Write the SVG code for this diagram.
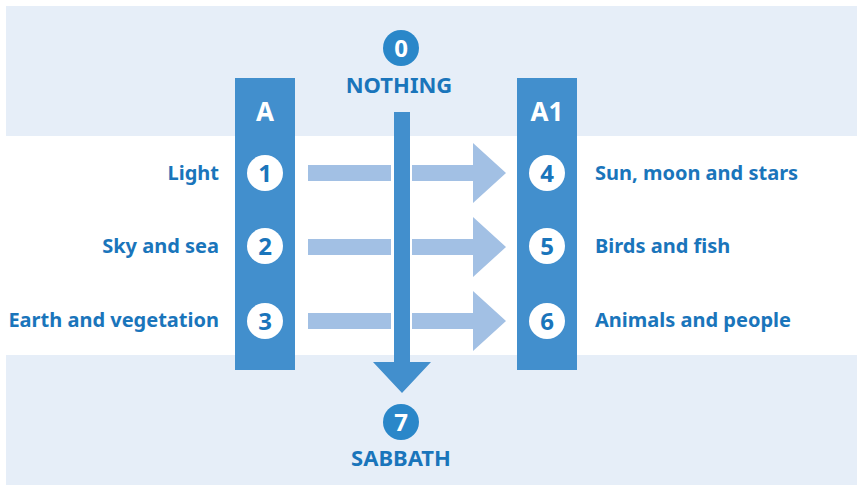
<svg xmlns="http://www.w3.org/2000/svg" width="857" height="485" viewBox="0 0 857 485">
<style>
.band{fill:#e6eef8}
.col{fill:#428fcd}
.lbl{font-family:"Noto Sans","Open Sans",sans-serif;font-weight:700;font-size:20px;fill:#1a75bb}
.cap{font-size:22px}
.hdr{font-family:"Noto Sans","Open Sans",sans-serif;font-weight:700;font-size:26px;fill:#ffffff}
.wc{fill:#ffffff}
.wn{font-family:"Noto Sans","Open Sans",sans-serif;font-weight:700;font-size:24px;fill:#1a75bb}
.bc{fill:#2a87c9}
.bn{font-family:"Noto Sans","Open Sans",sans-serif;font-weight:700;font-size:24px;fill:#ffffff}
.ha{fill:#a2c0e4}
</style>
<rect width="857" height="485" fill="#ffffff"/>
<rect class="band" x="6" y="6" width="851" height="130"/>
<rect class="band" x="6" y="355" width="851" height="130"/>
<g id="colA">
<rect class="col" x="235" y="78" width="60" height="292"/>
<text class="hdr" x="265" y="121" text-anchor="middle">A</text>
</g>
<g id="colA1">
<rect class="col" x="517" y="78" width="60" height="292"/>
<text class="hdr" x="547" y="121" text-anchor="middle">A1</text>
</g>
<g id="connectors">
<g class="ha">
<rect x="308" y="165" width="83" height="16"/>
<path d="M412 165H473V143L506 173L473 203V181H412Z"/>
<rect x="308" y="239" width="83" height="16"/>
<path d="M412 239H473V217L506 247L473 277V255H412Z"/>
<rect x="308" y="313" width="83" height="16"/>
<path d="M412 313H473V291L506 321L473 351V329H412Z"/>
</g>
<path class="col" d="M394 112H410V362H431L402 393L373 362H394Z"/>
</g>
<g id="n0">
<circle class="bc" cx="401" cy="48" r="18"/>
<text class="bn" x="401" y="57" text-anchor="middle">0</text>
<text class="lbl cap" x="399" y="93" text-anchor="middle">NOTHING</text>
</g>
<g id="n7">
<circle class="bc" cx="401" cy="422" r="18"/>
<text class="bn" x="401" y="431" text-anchor="middle">7</text>
<text class="lbl cap" x="401" y="466" text-anchor="middle">SABBATH</text>
</g>
<g id="n1">
<circle class="wc" cx="265" cy="173" r="18"/>
<text class="wn" x="265" y="182" text-anchor="middle">1</text>
<text class="lbl" x="219" y="180" text-anchor="end">Light</text>
</g>
<g id="n2">
<circle class="wc" cx="265" cy="246" r="18"/>
<text class="wn" x="265" y="255" text-anchor="middle">2</text>
<text class="lbl" x="219" y="253" text-anchor="end">Sky and sea</text>
</g>
<g id="n3">
<circle class="wc" cx="265" cy="321" r="18"/>
<text class="wn" x="265" y="330" text-anchor="middle">3</text>
<text class="lbl" x="219" y="327" text-anchor="end">Earth and vegetation</text>
</g>
<g id="n4">
<circle class="wc" cx="547" cy="173" r="18"/>
<text class="wn" x="547" y="182" text-anchor="middle">4</text>
<text class="lbl" x="595" y="180">Sun, moon and stars</text>
</g>
<g id="n5">
<circle class="wc" cx="547" cy="246" r="18"/>
<text class="wn" x="547" y="255" text-anchor="middle">5</text>
<text class="lbl" x="595" y="253">Birds and fish</text>
</g>
<g id="n6">
<circle class="wc" cx="547" cy="321" r="18"/>
<text class="wn" x="547" y="330" text-anchor="middle">6</text>
<text class="lbl" x="595" y="327">Animals and people</text>
</g>
</svg>
